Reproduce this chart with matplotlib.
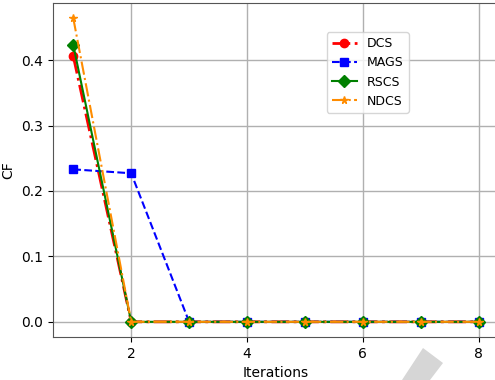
import matplotlib
matplotlib.use("Agg")
import matplotlib.pyplot as plt
from matplotlib.patches import Polygon

iterations = [1, 2, 3, 4, 5, 6, 7, 8]
dcs = [0.406, 0, 0, 0, 0, 0, 0, 0]
mags = [0.233, 0.227, 0, 0, 0, 0, 0, 0]
rscs = [0.423, 0, 0, 0, 0, 0, 0, 0]
ndcs = [0.464, 0, 0, 0, 0, 0, 0, 0]

fig = plt.figure(figsize=(4.95, 3.8), dpi=100)
# right spine falls just outside the picture, as in the original crop
ax = fig.add_axes([53 / 495, 43 / 380, 446 / 495, 334 / 380])

ax.plot(iterations, dcs, color="red", linestyle="-.", marker="o",
        linewidth=2, markersize=6, label="DCS")
ax.plot(iterations, mags, color="blue", linestyle="--", marker="s",
        linewidth=1.5, markersize=6, label="MAGS")
ax.plot(iterations, rscs, color="green", linestyle="-", marker="D",
        linewidth=1.5, markersize=6, label="RSCS")
ax.plot(iterations, ndcs, color="darkorange", linestyle="-.", marker="*",
        linewidth=1.5, markersize=5.5, label="NDCS")

ax.set_xlabel("Iterations")
ax.set_ylabel("CF")
ax.set_xticks([2, 4, 6, 8])
ax.set_yticks([0.0, 0.1, 0.2, 0.3, 0.4])
ax.grid(True, color="#b0b0b0", linewidth=1.0)
ax.set_axisbelow(True)
for s in ax.spines.values():
    s.set_color("#555555")

ax.legend(loc="upper left", bbox_to_anchor=(0.614, 0.913),
          borderaxespad=0, fontsize=9)

# grey arrow shaft peeking in at the bottom
fig.patches.append(Polygon(
    [(423 / 495, 1 - 348 / 380), (443 / 495, 1 - 363 / 380),
     (430 / 495, 0), (402 / 495, 0)],
    closed=True, transform=fig.transFigure, facecolor="#d6d6d6",
    edgecolor="none", zorder=0))

fig.savefig("out.png", dpi=100)
